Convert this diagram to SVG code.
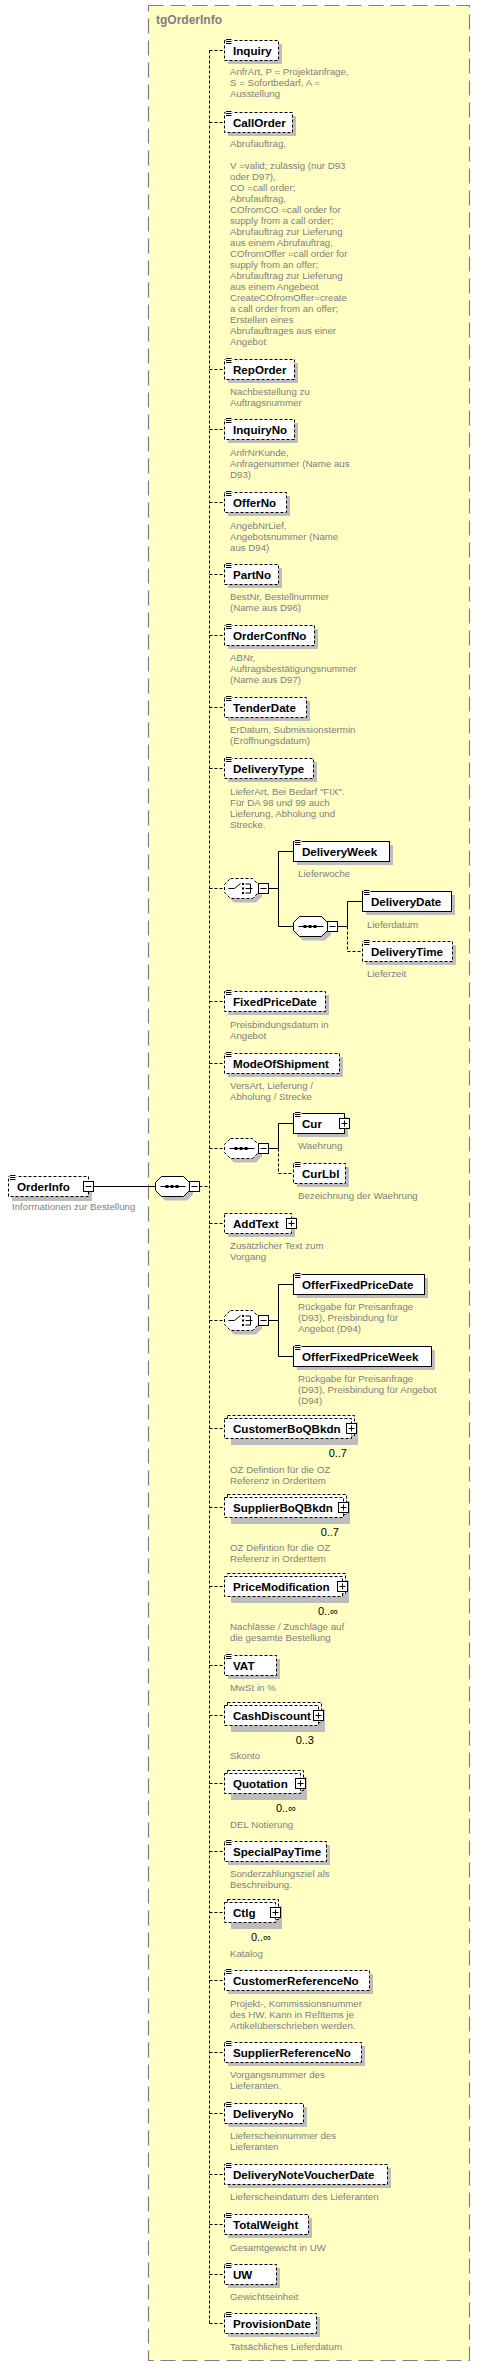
<svg xmlns="http://www.w3.org/2000/svg" width="481" height="2371" viewBox="0 0 481 2371">
<style>
.lbl{font-family:"Liberation Sans",Arial,sans-serif;font-size:11.6px;font-weight:bold;fill:#000}
.doc{font-family:"Liberation Sans",Arial,sans-serif;font-size:9.7px;fill:#808080}
.occ{font-family:"Liberation Sans",Arial,sans-serif;font-size:11px;fill:#000}
.box{fill:#fff;stroke:#000;stroke-width:1}
.opt{stroke-dasharray:3 2}
.sh{fill:#bdbdbd}
.ln{fill:none;stroke:#000;stroke-width:1}
.dl{fill:none;stroke:#000;stroke-width:1;stroke-dasharray:3 2}
</style>
<defs>
<g id="ic"><rect x="-0.5" y="-0.5" width="7" height="6" fill="#fff"/><path d="M0,0.5h5.5M0,2.5h5.5M0,4.5h5.5" stroke="#000" stroke-width="1"/></g>
<g id="plus"><rect x="-5" y="-5" width="10" height="10" fill="#fff" stroke="#000"/><path d="M-3,0h6M0,-3v6" stroke="#000"/></g>
<g id="minus"><rect x="0" y="-5" width="10" height="10" fill="#fff" stroke="#000"/><path d="M2,0h6" stroke="#000"/></g>
<path id="oct" d="M6,0H28L34,6V14L28,20H6L0,14V6Z"/>
<g id="seqsym"><path d="M5,10H30" stroke="#000"/><rect x="10" y="8.5" width="3" height="3" fill="#000"/><rect x="15" y="8.5" width="3" height="3" fill="#000"/><rect x="20" y="8.5" width="3" height="3" fill="#000"/></g>
<g id="chsym"><path d="M4,10H10L16,5M21,5.5h5v9h-5M21,10h7" stroke="#000" fill="none"/><rect x="17.5" y="4.5" width="2" height="2" fill="#000"/><rect x="17.5" y="9" width="2" height="2" fill="#000"/><rect x="17.5" y="13.5" width="2" height="2" fill="#000"/></g>
</defs>

<g id="frame">
<rect x="148.5" y="5.5" width="321" height="2355" fill="#ffffc4" stroke="#808080" stroke-width="1.2" stroke-dasharray="15 7"/>
<text x="156" y="24" style="font-family:'Liberation Sans',Arial,sans-serif;font-size:12px;font-weight:bold;fill:#808080">tgOrderInfo</text>
</g>

<g id="connectors">
<path class="ln" d="M93,1186.5H155"/>
<path class="dl" d="M199.5,1186.5H209.5M209.5,50.5V2323.5"/>
<path class="dl" d="M209.5,50.5H224.5M209.5,122.5H224.5M209.5,369.5H224.5M209.5,429.5H224.5M209.5,502.5H224.5M209.5,574.5H224.5M209.5,635.5H224.5M209.5,707.5H224.5M209.5,768.5H224.5M209.5,888.5H224.5M209.5,1001.5H224.5M209.5,1063.5H224.5M209.5,1148.5H224.5M209.5,1223.5H224.5M209.5,1320.5H224.5M209.5,1428.5H224.5M209.5,1507.5H224.5M209.5,1586.5H224.5M209.5,1665.5H224.5M209.5,1715.5H224.5M209.5,1783.5H224.5M209.5,1851.5H224.5M209.5,1912.5H224.5M209.5,1980.5H224.5M209.5,2052.5H224.5M209.5,2113.5H224.5M209.5,2174.5H224.5M209.5,2224.5H224.5M209.5,2274.5H224.5M209.5,2323.5H224.5"/>
<path class="ln" d="M268.5,888.5H278.5M278.5,851.5V926.5M278.5,851.5H293.5M278.5,926.5H293.5"/>
<path class="ln" d="M337.5,926.5H347.5M347.5,901.5V926.5M347.5,901.5H362.5"/>
<path class="dl" d="M347.5,926.5V951.5H362.5"/>
<path class="ln" d="M268.5,1148.5H278.5M278.5,1123.5V1148.5M278.5,1123.5H293.5"/>
<path class="dl" d="M278.5,1148.5V1173.5H293.5"/>
<path class="ln" d="M268.5,1320.5H278.5M278.5,1284.5V1356.5M278.5,1284.5H293.5M278.5,1356.5H293.5"/>
</g>

<g id="OrderInfo">
<rect class="sh" x="12" y="1181" width="80" height="20"/>
<rect class="box opt" x="8.5" y="1176.5" width="80" height="20"/>
<use href="#ic" x="10" y="1175"/>
<text class="lbl" x="17" y="1191">OrderInfo</text>
<use href="#minus" x="83.5" y="1186.5"/>
<text class="doc" x="12" y="1209.5">Informationen zur Bestellung</text>
</g>

<g id="seqMain">
<use href="#oct" x="159" y="1180.5" class="sh"/>
<use href="#oct" x="155.5" y="1176.5" class="box"/>
<use href="#seqsym" x="155.5" y="1176.5"/>
<use href="#minus" x="189.5" y="1186.5"/>
</g>

<g id="Inquiry">
<rect class="sh" x="228" y="44" width="54" height="20"/>
<rect class="box opt" x="224.5" y="40.5" width="54" height="20"/>
<use href="#ic" x="226" y="39"/>
<text class="lbl" x="233" y="55">Inquiry</text>
<text class="doc"><tspan x="230" y="75">AnfrArt, P = Projektanfrage,</tspan><tspan x="230" y="86">S = Sofortbedarf, A =</tspan><tspan x="230" y="97">Ausstellung</tspan></text>
</g>

<g id="CallOrder">
<rect class="sh" x="228" y="116" width="68" height="20"/>
<rect class="box opt" x="224.5" y="112.5" width="68" height="20"/>
<use href="#ic" x="226" y="111"/>
<text class="lbl" x="233" y="127">CallOrder</text>
<text class="doc"><tspan x="230" y="147">Abrufauftrag,</tspan><tspan x="230" y="169">V =valid;   zulässig (nur D93</tspan><tspan x="230" y="180">oder D97),</tspan><tspan x="230" y="191">CO =call order;</tspan><tspan x="230" y="202">Abrufauftrag,</tspan><tspan x="230" y="213">COfromCO =call order for</tspan><tspan x="230" y="224">supply from a call order;</tspan><tspan x="230" y="235">Abrufauftrag zur Lieferung</tspan><tspan x="230" y="246">aus einem Abrufauftrag,</tspan><tspan x="230" y="257">COfromOffer =call order for</tspan><tspan x="230" y="268">supply from an offer;</tspan><tspan x="230" y="279">Abrufauftrag zur Lieferung</tspan><tspan x="230" y="290">aus einem Angebeot</tspan><tspan x="230" y="301">CreateCOfromOffer=create</tspan><tspan x="230" y="312">a call order from an offer;</tspan><tspan x="230" y="323">Erstellen eines</tspan><tspan x="230" y="334">Abrufauftrages aus einer</tspan><tspan x="230" y="345">Angebot</tspan></text>
</g>

<g id="RepOrder">
<rect class="sh" x="228" y="363" width="70" height="20"/>
<rect class="box opt" x="224.5" y="359.5" width="70" height="20"/>
<use href="#ic" x="226" y="358"/>
<text class="lbl" x="233" y="374">RepOrder</text>
<text class="doc"><tspan x="230" y="395">Nachbestellung zu</tspan><tspan x="230" y="406">Auftragsnummer</tspan></text>
</g>

<g id="InquiryNo">
<rect class="sh" x="228" y="423" width="70" height="20"/>
<rect class="box opt" x="224.5" y="419.5" width="70" height="20"/>
<use href="#ic" x="226" y="418"/>
<text class="lbl" x="233" y="434">InquiryNo</text>
<text class="doc"><tspan x="230" y="456">AnfrNrKunde,</tspan><tspan x="230" y="467">Anfragenummer (Name aus</tspan><tspan x="230" y="478">D93)</tspan></text>
</g>

<g id="OfferNo">
<rect class="sh" x="228" y="496" width="62" height="20"/>
<rect class="box opt" x="224.5" y="492.5" width="62" height="20"/>
<use href="#ic" x="226" y="491"/>
<text class="lbl" x="233" y="507">OfferNo</text>
<text class="doc"><tspan x="230" y="529">AngebNrLief,</tspan><tspan x="230" y="540">Angebotsnummer (Name</tspan><tspan x="230" y="551">aus D94)</tspan></text>
</g>

<g id="PartNo">
<rect class="sh" x="228" y="568" width="54" height="20"/>
<rect class="box opt" x="224.5" y="564.5" width="54" height="20"/>
<use href="#ic" x="226" y="563"/>
<text class="lbl" x="233" y="579">PartNo</text>
<text class="doc"><tspan x="230" y="600">BestNr, Bestellnummer</tspan><tspan x="230" y="611">(Name aus D96)</tspan></text>
</g>

<g id="OrderConfNo">
<rect class="sh" x="228" y="629" width="90" height="20"/>
<rect class="box opt" x="224.5" y="625.5" width="90" height="20"/>
<use href="#ic" x="226" y="624"/>
<text class="lbl" x="233" y="640">OrderConfNo</text>
<text class="doc"><tspan x="230" y="661">ABNr,</tspan><tspan x="230" y="672">Auftragsbestätigungsnummer</tspan><tspan x="230" y="683">(Name aus D97)</tspan></text>
</g>

<g id="TenderDate">
<rect class="sh" x="228" y="701" width="82" height="20"/>
<rect class="box opt" x="224.5" y="697.5" width="82" height="20"/>
<use href="#ic" x="226" y="696"/>
<text class="lbl" x="233" y="712">TenderDate</text>
<text class="doc"><tspan x="230" y="733">ErDatum, Submissionstermin</tspan><tspan x="230" y="744">(Eröffnungsdatum)</tspan></text>
</g>

<g id="DeliveryType">
<rect class="sh" x="228" y="762" width="89" height="20"/>
<rect class="box opt" x="224.5" y="758.5" width="89" height="20"/>
<use href="#ic" x="226" y="757"/>
<text class="lbl" x="233" y="773">DeliveryType</text>
<text class="doc"><tspan x="230" y="795">LieferArt, Bei Bedarf "FIX".</tspan><tspan x="230" y="806">Für DA 98 und 99 auch</tspan><tspan x="230" y="817">Lieferung, Abholung und</tspan><tspan x="230" y="828">Strecke.</tspan></text>
</g>

<g id="choice1">
<use href="#oct" x="228" y="882.5" class="sh"/>
<use href="#oct" x="224.5" y="878.5" class="box opt"/>
<use href="#chsym" x="224.5" y="878.5"/>
<use href="#minus" x="258.5" y="888.5"/>
</g>

<g id="DeliveryWeek">
<rect class="sh" x="297" y="845" width="96" height="20"/>
<rect class="box" x="293.5" y="841.5" width="96" height="20"/>
<use href="#ic" x="295" y="840"/>
<text class="lbl" x="302" y="856">DeliveryWeek</text>
<text class="doc" x="298" y="877">Lieferwoche</text>
</g>

<g id="seq1">
<use href="#oct" x="297" y="920.5" class="sh"/>
<use href="#oct" x="293.5" y="916.5" class="box"/>
<use href="#seqsym" x="293.5" y="916.5"/>
<use href="#minus" x="327.5" y="926.5"/>
</g>

<g id="DeliveryDate">
<rect class="sh" x="366" y="895" width="89" height="20"/>
<rect class="box" x="362.5" y="891.5" width="89" height="20"/>
<use href="#ic" x="364" y="890"/>
<text class="lbl" x="371" y="906">DeliveryDate</text>
<text class="doc" x="367" y="927.5">Lieferdatum</text>
</g>

<g id="DeliveryTime">
<rect class="sh" x="366" y="945" width="90" height="20"/>
<rect class="box opt" x="362.5" y="941.5" width="90" height="20"/>
<use href="#ic" x="364" y="940"/>
<text class="lbl" x="371" y="956">DeliveryTime</text>
<text class="doc" x="367" y="977">Lieferzeit</text>
</g>

<g id="FixedPriceDate">
<rect class="sh" x="228" y="995" width="101" height="20"/>
<rect class="box opt" x="224.5" y="991.5" width="101" height="20"/>
<use href="#ic" x="226" y="990"/>
<text class="lbl" x="233" y="1006">FixedPriceDate</text>
<text class="doc"><tspan x="230" y="1027.5">Preisbindungsdatum in</tspan><tspan x="230" y="1038.5">Angebot</tspan></text>
</g>

<g id="ModeOfShipment">
<rect class="sh" x="228" y="1057" width="115" height="20"/>
<rect class="box opt" x="224.5" y="1053.5" width="115" height="20"/>
<use href="#ic" x="226" y="1052"/>
<text class="lbl" x="233" y="1068">ModeOfShipment</text>
<text class="doc"><tspan x="230" y="1088.5">VersArt, Lieferung /</tspan><tspan x="230" y="1099.5">Abholung / Strecke</tspan></text>
</g>

<g id="seq2">
<use href="#oct" x="228" y="1142.5" class="sh"/>
<use href="#oct" x="224.5" y="1138.5" class="box opt"/>
<use href="#seqsym" x="224.5" y="1138.5"/>
<use href="#minus" x="258.5" y="1148.5"/>
</g>

<g id="Cur">
<rect class="sh" x="297" y="1117" width="51" height="20"/>
<rect class="box" x="293.5" y="1113.5" width="51" height="20"/>
<use href="#ic" x="295" y="1112"/>
<text class="lbl" x="302" y="1128">Cur</text>
<use href="#plus" x="344.5" y="1123.5"/>
<text class="doc" x="298" y="1149">Waehrung</text>
</g>

<g id="CurLbl">
<rect class="sh" x="297" y="1167" width="52" height="20"/>
<rect class="box opt" x="293.5" y="1163.5" width="52" height="20"/>
<use href="#ic" x="295" y="1162"/>
<text class="lbl" x="302" y="1178">CurLbl</text>
<text class="doc" x="298" y="1199">Bezeichnung der Waehrung</text>
</g>

<g id="AddText">
<rect class="sh" x="228" y="1217" width="67" height="20"/>
<rect class="box opt" x="224.5" y="1213.5" width="67" height="20"/>
<text class="lbl" x="233" y="1228">AddText</text>
<use href="#plus" x="291.5" y="1223.5"/>
<text class="doc"><tspan x="230" y="1249">Zusätzlicher Text zum</tspan><tspan x="230" y="1260">Vorgang</tspan></text>
</g>

<g id="choice2">
<use href="#oct" x="228" y="1314.5" class="sh"/>
<use href="#oct" x="224.5" y="1310.5" class="box opt"/>
<use href="#chsym" x="224.5" y="1310.5"/>
<use href="#minus" x="258.5" y="1320.5"/>
</g>

<g id="OfferFixedPriceDate">
<rect class="sh" x="297" y="1278" width="131" height="20"/>
<rect class="box" x="293.5" y="1274.5" width="131" height="20"/>
<use href="#ic" x="295" y="1273"/>
<text class="lbl" x="302" y="1289">OfferFixedPriceDate</text>
<text class="doc"><tspan x="298" y="1310">Rückgabe für Preisanfrage</tspan><tspan x="298" y="1321">(D93), Preisbindung für</tspan><tspan x="298" y="1332">Angebot (D94)</tspan></text>
</g>

<g id="OfferFixedPriceWeek">
<rect class="sh" x="297" y="1350" width="138" height="20"/>
<rect class="box" x="293.5" y="1346.5" width="138" height="20"/>
<use href="#ic" x="295" y="1345"/>
<text class="lbl" x="302" y="1361">OfferFixedPriceWeek</text>
<text class="doc"><tspan x="298" y="1382">Rückgabe für Preisanfrage</tspan><tspan x="298" y="1393">(D93), Preisbindung für Angebot</tspan><tspan x="298" y="1404">(D94)</tspan></text>
</g>

<g id="CustomerBoQBkdn">
<rect class="sh" x="231" y="1422" width="127" height="23"/>
<rect class="box opt" x="227.5" y="1415.5" width="127" height="20"/>
<rect class="box opt" x="224.5" y="1418.5" width="127" height="20"/>
<text class="lbl" x="233" y="1433">CustomerBoQBkdn</text>
<use href="#plus" x="351.5" y="1428.5"/>
<text class="occ" x="347" y="1456.5" text-anchor="end">0..7</text>
<text class="doc"><tspan x="230" y="1472.5">OZ Defintion für die OZ</tspan><tspan x="230" y="1483.5">Referenz in OrderItem</tspan></text>
</g>

<g id="SupplierBoQBkdn">
<rect class="sh" x="231" y="1501" width="119" height="23"/>
<rect class="box opt" x="227.5" y="1494.5" width="119" height="20"/>
<rect class="box opt" x="224.5" y="1497.5" width="119" height="20"/>
<text class="lbl" x="233" y="1512">SupplierBoQBkdn</text>
<use href="#plus" x="343.5" y="1507.5"/>
<text class="occ" x="339" y="1535.5" text-anchor="end">0..7</text>
<text class="doc"><tspan x="230" y="1551">OZ Defintion für die OZ</tspan><tspan x="230" y="1562">Referenz in OrderItem</tspan></text>
</g>

<g id="PriceModification">
<rect class="sh" x="231" y="1580" width="118" height="23"/>
<rect class="box opt" x="227.5" y="1573.5" width="118" height="20"/>
<rect class="box opt" x="224.5" y="1576.5" width="118" height="20"/>
<text class="lbl" x="233" y="1591">PriceModification</text>
<use href="#plus" x="342.5" y="1586.5"/>
<text class="occ" x="338" y="1614.5" text-anchor="end">0..∞</text>
<text class="doc"><tspan x="230" y="1630">Nachlässe / Zuschläge auf</tspan><tspan x="230" y="1641">die gesamte Bestellung</tspan></text>
</g>

<g id="VAT">
<rect class="sh" x="228" y="1659" width="52" height="20"/>
<rect class="box opt" x="224.5" y="1655.5" width="52" height="20"/>
<use href="#ic" x="226" y="1654"/>
<text class="lbl" x="233" y="1670">VAT</text>
<text class="doc" x="230" y="1691">MwSt in %</text>
</g>

<g id="CashDiscount">
<rect class="sh" x="231" y="1709" width="94" height="23"/>
<rect class="box opt" x="227.5" y="1702.5" width="94" height="20"/>
<rect class="box opt" x="224.5" y="1705.5" width="94" height="20"/>
<text class="lbl" x="233" y="1720">CashDiscount</text>
<use href="#plus" x="318.5" y="1715.5"/>
<text class="occ" x="314" y="1743.5" text-anchor="end">0..3</text>
<text class="doc" x="230" y="1759">Skonto</text>
</g>

<g id="Quotation">
<rect class="sh" x="231" y="1777" width="76" height="23"/>
<rect class="box opt" x="227.5" y="1770.5" width="76" height="20"/>
<rect class="box opt" x="224.5" y="1773.5" width="76" height="20"/>
<text class="lbl" x="233" y="1788">Quotation</text>
<use href="#plus" x="300.5" y="1783.5"/>
<text class="occ" x="296" y="1811.5" text-anchor="end">0..∞</text>
<text class="doc" x="230" y="1827.5">DEL Notierung</text>
</g>

<g id="SpecialPayTime">
<rect class="sh" x="228" y="1845" width="102" height="20"/>
<rect class="box opt" x="224.5" y="1841.5" width="102" height="20"/>
<use href="#ic" x="226" y="1840"/>
<text class="lbl" x="233" y="1856">SpecialPayTime</text>
<text class="doc"><tspan x="230" y="1877">Sonderzahlungsziel als</tspan><tspan x="230" y="1888">Beschreibung.</tspan></text>
</g>

<g id="Ctlg">
<rect class="sh" x="231" y="1906" width="51" height="23"/>
<rect class="box opt" x="227.5" y="1899.5" width="51" height="20"/>
<rect class="box opt" x="224.5" y="1902.5" width="51" height="20"/>
<text class="lbl" x="233" y="1917">Ctlg</text>
<use href="#plus" x="275.5" y="1912.5"/>
<text class="occ" x="271" y="1940.5" text-anchor="end">0..∞</text>
<text class="doc" x="230" y="1956.5">Katalog</text>
</g>

<g id="CustomerReferenceNo">
<rect class="sh" x="228" y="1974" width="145" height="20"/>
<rect class="box opt" x="224.5" y="1970.5" width="145" height="20"/>
<use href="#ic" x="226" y="1969"/>
<text class="lbl" x="233" y="1985">CustomerReferenceNo</text>
<text class="doc"><tspan x="230" y="2006.5">Projekt-, Kommissionsnummer</tspan><tspan x="230" y="2017.5">des HW. Kann in RefItems je</tspan><tspan x="230" y="2028.5">Artikelüberschrieben werden.</tspan></text>
</g>

<g id="SupplierReferenceNo">
<rect class="sh" x="228" y="2046" width="137" height="20"/>
<rect class="box opt" x="224.5" y="2042.5" width="137" height="20"/>
<use href="#ic" x="226" y="2041"/>
<text class="lbl" x="233" y="2057">SupplierReferenceNo</text>
<text class="doc"><tspan x="230" y="2078">Vorgangsnummer des</tspan><tspan x="230" y="2089">Lieferanten.</tspan></text>
</g>

<g id="DeliveryNo">
<rect class="sh" x="228" y="2107" width="79" height="20"/>
<rect class="box opt" x="224.5" y="2103.5" width="79" height="20"/>
<use href="#ic" x="226" y="2102"/>
<text class="lbl" x="233" y="2118">DeliveryNo</text>
<text class="doc"><tspan x="230" y="2139">Lieferscheinnummer des</tspan><tspan x="230" y="2150">Lieferanten</tspan></text>
</g>

<g id="DeliveryNoteVoucherDate">
<rect class="sh" x="228" y="2168" width="163" height="20"/>
<rect class="box opt" x="224.5" y="2164.5" width="163" height="20"/>
<use href="#ic" x="226" y="2163"/>
<text class="lbl" x="233" y="2179">DeliveryNoteVoucherDate</text>
<text class="doc" x="230" y="2200">Lieferscheindatum des Lieferanten</text>
</g>

<g id="TotalWeight">
<rect class="sh" x="228" y="2218" width="84" height="20"/>
<rect class="box opt" x="224.5" y="2214.5" width="84" height="20"/>
<use href="#ic" x="226" y="2213"/>
<text class="lbl" x="233" y="2229">TotalWeight</text>
<text class="doc" x="230" y="2250.5">Gesamtgewicht in UW</text>
</g>

<g id="UW">
<rect class="sh" x="228" y="2268" width="52" height="20"/>
<rect class="box opt" x="224.5" y="2264.5" width="52" height="20"/>
<use href="#ic" x="226" y="2263"/>
<text class="lbl" x="233" y="2279">UW</text>
<text class="doc" x="230" y="2300">Gewichtseinheit</text>
</g>

<g id="ProvisionDate">
<rect class="sh" x="228" y="2317" width="92" height="20"/>
<rect class="box opt" x="224.5" y="2313.5" width="92" height="20"/>
<use href="#ic" x="226" y="2312"/>
<text class="lbl" x="233" y="2328">ProvisionDate</text>
<text class="doc" x="230" y="2350">Tatsächliches Lieferdatum</text>
</g>
</svg>
